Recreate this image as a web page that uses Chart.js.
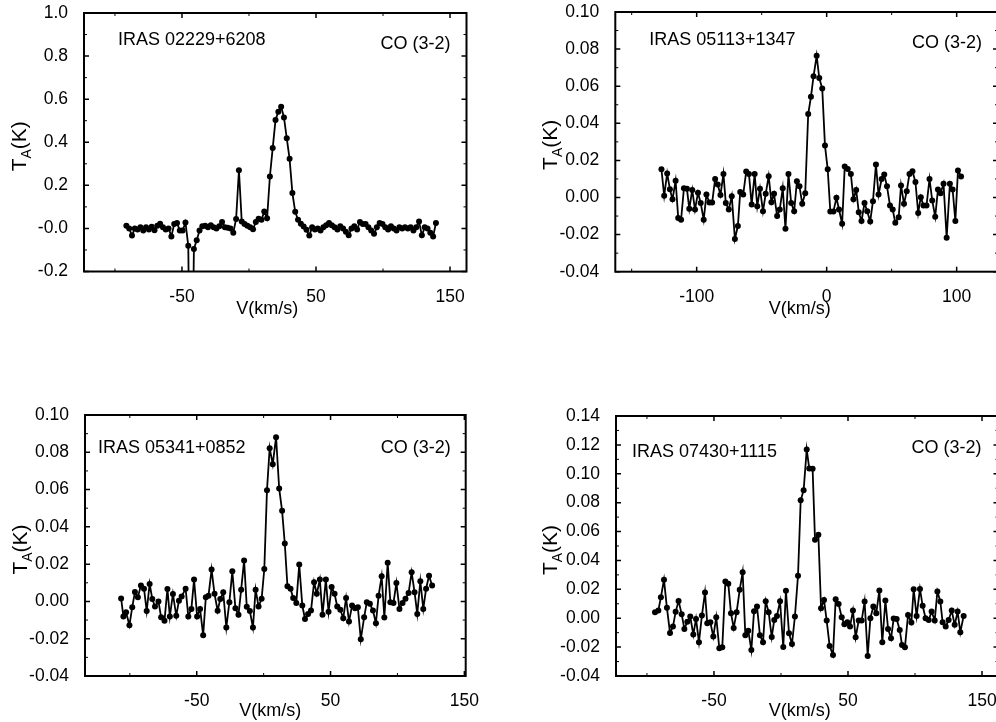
<!DOCTYPE html>
<html>
<head>
<meta charset="utf-8">
<script src="https://cdn.jsdelivr.net/npm/chart.js@4.4.1/dist/chart.umd.min.js"></script>
<style>
  html, body { margin: 0; padding: 0; background: #fff; }
  body { width: 996px; height: 722px; overflow: hidden; position: relative; }
  .panel { position: absolute; }
</style>
</head>
<body>
<div class="panel" style="left:0;top:0"><canvas id="c1" width="490" height="330"></canvas></div>
<div class="panel" style="left:500px;top:0"><canvas id="c2" width="520" height="330"></canvas></div>
<div class="panel" style="left:0;top:400px"><canvas id="c3" width="490" height="330"></canvas></div>
<div class="panel" style="left:500px;top:400px"><canvas id="c4" width="520" height="330"></canvas></div>
<script>
/* data: velocity (km/s) and antenna temperature (K) */
const lineName = 'CO (3-2)';

const p1Name = 'IRAS 02229+6208';
const p1V = [-91.5,-89.4,-87.3,-85.2,-83.1,-81.0,-78.9,-76.8,-74.7,-72.6,
  -70.5,-68.4,-66.3,-64.2,-62.1,-60.0,-57.9,-55.8,-53.7,-51.6,
  -49.5,-47.4,-45.3,-43.2,-41.1,-39.0,-36.9,-34.8,-32.7,-30.6,
  -28.5,-26.4,-24.3,-22.2,-20.1,-18.0,-15.9,-13.8,-11.7,-9.6,
  -7.5,-5.4,-3.3,-1.2,0.9,3.0,5.1,7.2,9.3,11.4,
  13.5,15.6,17.7,19.8,21.9,24.0,26.1,28.2,30.3,32.4,
  34.5,36.6,38.7,40.8,42.9,45.0,47.1,49.2,51.3,53.4,
  55.5,57.6,59.7,61.8,63.9,66.0,68.1,70.2,72.3,74.4,
  76.5,78.6,80.7,82.8,84.9,87.0,89.1,91.2,93.3,95.4,
  97.5,99.6,101.7,103.8,105.9,108.0,110.1,112.2,114.3,116.4,
  118.5,120.6,122.7,124.8,126.9,129.0,131.1,133.2,135.3,137.4,139.5];
const p1T = [0.012,0,-0.033,0,-0.005,0.005,-0.01,0.005,-0.005,0.008,
  -0.008,0.012,0.022,0.005,-0.005,0,-0.037,0.02,0.025,-0.01,
  -0.01,0.028,-0.08,-1.2,-0.095,-0.055,-0.01,0.01,0.012,0.005,
  0.015,0.005,0,0.01,0.03,0.005,0.003,0,-0.02,0.044,
  0.27,0.032,0.02,0.012,0.005,-0.004,0.03,0.045,0.04,0.078,
  0.047,0.241,0.373,0.503,0.542,0.565,0.515,0.418,0.323,0.164,
  0.077,0.04,0.022,0.009,-0.006,-0.033,0.005,-0.005,0,-0.01,
  0.005,0.015,0.025,0.015,0.005,-0.005,0.01,0,-0.015,-0.032,
  0,0.01,-0.005,0.03,0.02,0.02,0.005,-0.01,-0.025,0.005,
  0.025,0.02,0.005,-0.005,0.01,0,-0.01,0.005,0,0.005,
  0,0.005,-0.01,0.005,0.032,-0.032,0.005,0,-0.02,-0.037,0.025];

const p2Name = 'IRAS 05113+1347';
const p2V = [-127.1,-125.0,-122.7,-120.6,-118.6,-116.2,-114.2,-112.0,-109.8,-107.5,
  -105.7,-103.4,-101.3,-99.0,-96.9,-94.6,-92.5,-90.2,-88.1,-85.8,
  -83.8,-81.7,-79.4,-77.6,-75.3,-73.0,-70.6,-68.3,-66.5,-64.2,
  -61.9,-59.8,-57.7,-55.4,-53.4,-51.3,-49.0,-46.9,-44.6,-42.5,
  -40.5,-38.1,-36.1,-33.8,-31.7,-29.4,-27.3,-25.0,-22.9,-20.9,
  -18.8,-16.5,-14.2,-12.1,-10.1,-7.7,-5.7,-3.4,-1.3,0.8,
  2.8,5.2,7.5,9.5,11.9,13.9,16.2,18.6,20.6,22.7,
  24.7,26.8,29.1,31.2,33.5,35.6,37.9,39.9,42.3,44.3,
  46.4,48.7,50.8,52.8,55.4,57.2,59.5,61.6,63.7,66.0,
  68.3,70.4,72.4,74.5,76.8,79.1,81.2,83.5,85.6,87.6,
  89.9,92.3,94.8,96.9,99.0,101.0,103.4];
const p2T = [0.0152,0.001,0.013,0.0045,-0.001,0.009,-0.011,-0.012,0.005,0.0047,
  -0.006,0.004,-0.0065,0.0025,-0.003,-0.012,0.0016,-0.0027,-0.0027,0.01,
  0.007,0.0014,0.0127,-0.003,-0.0065,0.0007,-0.0224,-0.0154,0.003,0.0016,
  0.014,0.0127,-0.0038,0.0127,-0.0047,0.0047,-0.0074,0.002,0.0115,-0.0025,
  0.002,-0.01,-0.0065,0.005,-0.0169,0.0127,-0.003,-0.0074,0.0088,0.006,
  -0.0034,0.0023,0.045,0.0543,0.0653,0.0764,0.0644,0.0587,0.028,0.0152,
  -0.0075,-0.0075,-0.0002,-0.0065,-0.0142,0.0167,0.0154,0.0127,-0.001,0.0041,
  -0.0079,-0.0127,-0.003,-0.0074,-0.0129,-0.002,0.0178,0.0016,0.01,0.0124,
  0.006,-0.0043,-0.0065,-0.0136,-0.0106,0.0065,-0.0034,0.0034,0.0127,0.0142,
  0.0083,-0.0083,0.0002,-0.0043,-0.0043,0.01,-0.0016,-0.0104,0.0043,0.0023,
  0.0074,-0.0217,0.0074,0.0043,-0.0127,0.0145,0.0113];

const p3Name = 'IRAS 05341+0852';
const p3V = [-106.5,-104.8,-102.8,-100.3,-98.2,-96.2,-94.0,-91.7,-89.4,-87.4,
  -85.2,-83.2,-81.2,-78.6,-76.6,-74.1,-71.9,-70.1,-67.8,-65.3,
  -63.3,-61.3,-58.3,-56.3,-54.0,-52.0,-49.7,-47.5,-45.2,-43.2,
  -41.2,-38.9,-36.7,-34.4,-32.4,-30.2,-27.9,-25.6,-23.4,-21.1,
  -18.8,-16.8,-14.6,-12.6,-10.3,-8.0,-6.0,-3.8,-1.5,0.5,
  2.5,4.5,6.8,9.3,11.6,13.8,15.8,17.8,20.1,22.1,
  24.4,26.6,28.9,30.9,33.2,35.4,37.7,39.7,42.0,44.0,
  46.5,48.5,50.8,53.0,55.0,57.3,59.5,61.6,63.8,66.1,
  68.3,70.4,72.6,75.1,77.1,79.4,81.7,83.9,85.9,88.2,
  90.2,92.7,94.7,97.0,99.2,101.5,103.8,106.0,108.3,110.6,
  112.8,114.8,117.1,119.3,121.4,123.6,125.9];
const p3T = [0.0016,-0.0081,-0.0058,-0.0128,-0.0031,0.005,0.0023,0.0086,0.0068,-0.0052,
  0.0094,0.0013,-0.0027,0,-0.0085,-0.0103,0.0067,-0.0081,0.004,-0.0077,
  0.0004,0.0027,0.0068,-0.0081,-0.004,0.0117,-0.0081,-0.004,-0.0182,0.0023,
  0.0031,0.0171,0.0041,-0.005,0.0013,0.0049,-0.014,-0.0004,0.0162,-0.0036,
  -0.0072,0.0063,0.0219,-0.0029,-0.0052,-0.014,0.0063,-0.0027,0.0014,0.0174,
  0.0597,0.0822,0.0736,0.0881,0.0606,0.0486,0.0311,0.0081,0.0068,0.0018,
  -0.0009,0.0198,-0.0022,-0.0094,-0.0067,-0.0049,0.0103,0.0041,0.0117,-0.0072,
  0.0117,-0.0056,0.0077,0.0041,-0.0027,-0.0045,-0.009,0.0018,-0.0108,-0.0022,
  -0.0036,-0.0031,-0.0203,-0.0085,-0.0004,-0.0013,-0.0049,-0.0117,0.0031,0.0135,
  -0.0086,0.0207,-0.0004,-0.0009,0.0099,-0.004,-0.0009,0.0014,0.0045,0.0156,
  0.0049,-0.0067,0.0108,-0.004,0.0068,0.0138,0.0085];

const p4Name = 'IRAS 07430+1115';
const p4V = [-94.0,-91.5,-89.6,-87.3,-85.1,-82.8,-80.6,-78.6,-76.4,-74.1,
  -72.1,-69.9,-67.7,-65.4,-63.4,-61.2,-59.0,-56.7,-55.0,-52.7,
  -50.5,-48.3,-46.0,-43.8,-41.5,-39.3,-37.3,-35.3,-33.1,-30.8,
  -28.6,-26.6,-24.4,-22.1,-20.1,-17.9,-15.7,-13.4,-11.4,-9.2,
  -6.9,-5.0,-3.0,-0.7,1.7,3.7,6.0,8.2,10.4,12.7,
  14.7,16.9,19.2,21.1,23.6,25.4,27.9,29.9,32.1,34.1,
  36.3,38.8,40.8,43.0,45.3,47.3,49.5,51.5,53.7,55.7,
  58.0,60.2,62.4,64.7,66.7,68.9,71.1,73.4,75.6,77.9,
  79.9,82.1,84.1,86.3,88.6,90.3,92.5,94.8,97.3,99.0,
  101.2,103.7,105.7,107.9,110.2,112.4,114.7,116.7,118.9,120.6,
  122.9,125.1,127.4,129.6,131.8,133.8,136.3];
const p4T = [0.0042,0.0053,0.0146,0.0266,0.0072,-0.0102,-0.0058,0.0044,0.012,0.0028,
  -0.0074,-0.0025,0.0012,-0.0113,-0.0005,-0.0166,0.0018,0.0178,-0.0035,-0.0028,
  -0.0127,0.0007,-0.0208,-0.0201,0.0254,0.0238,0.0035,-0.0067,0.0042,0.0197,
  0.0319,-0.0118,-0.0086,-0.022,0.0049,0.0081,-0.0118,-0.0166,0.0118,0.0042,
  -0.013,-0.0012,0.0016,0.0118,-0.0199,0.019,-0.0104,-0.0178,0.0012,0.0294,
  0.0816,0.0886,0.1168,0.1036,0.1034,0.0543,0.0578,0.0069,0.0127,-0.0016,
  -0.0192,-0.0254,0.0132,0.0099,0.0007,-0.0042,-0.0028,-0.0058,0.0053,-0.0132,
  -0.0016,-0.0016,0.0116,-0.0261,0,0.0081,0.0035,0.0192,-0.0166,0.0123,
  -0.0074,-0.0139,-0.0002,-0.0005,-0.0081,-0.0185,-0.0201,0.0023,-0.003,0.0201,
  0.0016,0.0203,0.0086,0,-0.0012,0.0046,-0.0016,0.0185,0.0116,-0.0028,
  -0.0058,-0.0012,0.0053,-0.0046,0.0046,-0.0097,0.0016];

/* ticks: every tick mark, label '' = minor tick */
const xTicksA = [-100, -50, 0, 50, 100, 150];
const xLabelsA = ['', '-50', '', '50', '', '150'];
const xTicksB = [-150, -100, -50, 0, 50, 100];
const xLabelsB = ['', '-100', '', '0', '', '100'];
const yTicks1 = [-0.2, -0.1, 0, 0.1, 0.2, 0.3, 0.4, 0.5, 0.6, 0.7, 0.8, 0.9, 1.0];
const yLabels1 = ['-0.2', '', '-0.0', '', '0.2', '', '0.4', '', '0.6', '', '0.8', '', '1.0'];
const yTicks10 = [-0.04, -0.03, -0.02, -0.01, 0, 0.01, 0.02, 0.03, 0.04, 0.05, 0.06, 0.07, 0.08, 0.09, 0.10];
const yLabels10 = ['-0.04', '', '-0.02', '', '0.00', '', '0.02', '', '0.04', '', '0.06', '', '0.08', '', '0.10'];
const yTicks14 = [-0.04, -0.03, -0.02, -0.01, 0, 0.01, 0.02, 0.03, 0.04, 0.05, 0.06, 0.07, 0.08, 0.09, 0.10, 0.11, 0.12, 0.13, 0.14];
const yLabels14 = ['-0.04', '', '-0.02', '', '0.00', '', '0.02', '', '0.04', '', '0.06', '', '0.08', '', '0.10', '', '0.12', '', '0.14'];

const FONT = '"Liberation Sans", Arial, Helvetica, sans-serif';
Chart.defaults.font.family = FONT;
Chart.defaults.font.size = 17.5;
Chart.defaults.color = '#000';

const panels = [
  { id: 'c1', name: p1Name, v: p1V, t: p1T, x: [-123.1, 162.3], y: [-0.2, 1.0],
    xt: xTicksA, xl: xLabelsA, yt: yTicks1, yl: yLabels1,
    pad: { top: 13, right: 23.5, left: 0, bottom: 0 }, yW: 84, xH: 58.5,
    iras: [34, 27], co: [16, 31], xTitle: [-8, 38], yTitle: [-64, 4] },
  { id: 'c2', name: p2Name, v: p2V, t: p2T, x: [-162.6, 131.8], y: [-0.04, 0.10],
    xt: xTicksB, xl: xLabelsB, yt: yTicks10, yl: yLabels10,
    pad: { top: 12, right: 22, left: 0, bottom: 0 }, yW: 115.3, xH: 58.3,
    iras: [34, 28], co: [16, 31], xTitle: [-7, 37], yTitle: [-64, 3] },
  { id: 'c3', name: p3Name, v: p3V, t: p3T, x: [-133.5, 151], y: [-0.04, 0.10],
    xt: xTicksA, xl: xLabelsA, yt: yTicks10, yl: yLabels10,
    pad: { top: 15, right: 24.3, left: 0, bottom: 0 }, yW: 85, xH: 54,
    iras: [13, 33], co: [15, 33], xTitle: [-5, 35], yTitle: [-64, 4] },
  { id: 'c4', name: p4Name, v: p4V, t: p4T, x: [-123.1, 162.3], y: [-0.04, 0.14],
    xt: xTicksA, xl: xLabelsA, yt: yTicks14, yl: yLabels14,
    pad: { top: 16, right: 21.5, left: 0, bottom: 0 }, yW: 116, xH: 54,
    iras: [16, 36], co: [17, 32], xTitle: [-7.5, 35], yTitle: [-65, 4] }
];

// frame, inward tick marks and the text labels of one panel
function framePlugin(p) {
  return {
    id: 'frame',
    afterDraw(chart) {
      const { ctx, chartArea: a, scales: { x, y } } = chart;
      ctx.save();
      ctx.strokeStyle = '#000';
      ctx.fillStyle = '#000';
      p.xt.forEach((v, i) => {
        const px = x.getPixelForValue(v);
        const major = p.xl[i] !== '';
        const len = major ? 5 : 3;
        ctx.lineWidth = major ? 1.5 : 1;
        ctx.beginPath();
        ctx.moveTo(px, a.bottom); ctx.lineTo(px, a.bottom - len);
        ctx.moveTo(px, a.top); ctx.lineTo(px, a.top + len);
        ctx.stroke();
      });
      p.yt.forEach((v, i) => {
        const py = y.getPixelForValue(v);
        const major = p.yl[i] !== '';
        const len = major ? 5 : 3;
        ctx.lineWidth = major ? 1.5 : 1;
        ctx.beginPath();
        ctx.moveTo(a.left, py); ctx.lineTo(a.left + len, py);
        ctx.moveTo(a.right, py); ctx.lineTo(a.right - len, py);
        ctx.stroke();
      });
      ctx.lineWidth = 2;
      ctx.strokeRect(a.left, a.top, a.right - a.left, a.bottom - a.top);

      ctx.font = '18px ' + FONT;
      ctx.textBaseline = 'middle';
      ctx.textAlign = 'left';
      ctx.fillText(p.name, a.left + p.iras[0], a.top + p.iras[1]);
      ctx.textAlign = 'right';
      ctx.fillText(lineName, a.right - p.co[0], a.top + p.co[1]);
      ctx.textAlign = 'center';
      ctx.fillText('V(km/s)', (a.left + a.right) / 2 + p.xTitle[0], a.bottom + p.xTitle[1]);

      // T_A(K), rotated, with subscript
      ctx.translate(a.left + p.yTitle[0], (a.top + a.bottom) / 2 + p.yTitle[1]);
      ctx.rotate(-Math.PI / 2);
      ctx.textAlign = 'left';
      const big = '21px ' + FONT, small = '14px ' + FONT;
      ctx.font = big;
      const wT = ctx.measureText('T').width, wK = ctx.measureText('(K)').width;
      ctx.font = small;
      const wA = ctx.measureText('A').width;
      const x0 = -(wT + wA + wK) / 2;
      ctx.font = big; ctx.fillText('T', x0, 0);
      ctx.font = small; ctx.fillText('A', x0 + wT, 7);
      ctx.font = big; ctx.fillText('(K)', x0 + wT + wA, 0);
      ctx.restore();
    }
  };
}

panels.forEach(p => {
  new Chart(document.getElementById(p.id), {
    type: 'line',
    data: {
      datasets: [{
        data: p.v.map((v, i) => ({ x: v, y: p.t[i] })),
        borderColor: '#000',
        borderWidth: 1.8,
        pointRadius: 3,
        pointBackgroundColor: '#000',
        pointBorderWidth: 0,
        tension: 0
      }]
    },
    options: {
      responsive: false,
      animation: false,
      events: [],
      layout: { padding: p.pad },
      plugins: { legend: { display: false }, tooltip: { enabled: false } },
      scales: {
        x: {
          type: 'linear',
          min: p.x[0], max: p.x[1],
          grid: { display: false, drawTicks: false },
          border: { display: false },
          afterBuildTicks: s => { s.ticks = p.xt.map(v => ({ value: v })); },
          afterFit: s => { s.height = p.xH; s.paddingLeft = 0; s.paddingRight = 0; },
          ticks: {
            autoSkip: false, maxRotation: 0, padding: 15,
            callback: (v, i) => p.xl[i]
          }
        },
        y: {
          min: p.y[0], max: p.y[1],
          grid: { display: false, drawTicks: false },
          border: { display: false },
          afterBuildTicks: s => { s.ticks = p.yt.map(v => ({ value: v })); },
          afterFit: s => { s.width = p.yW; s.paddingTop = 0; s.paddingBottom = 0; },
          ticks: {
            autoSkip: false, padding: 16,
            callback: (v, i) => p.yl[i]
          }
        }
      }
    },
    plugins: [framePlugin(p)]
  });
});
</script>
</body>
</html>
